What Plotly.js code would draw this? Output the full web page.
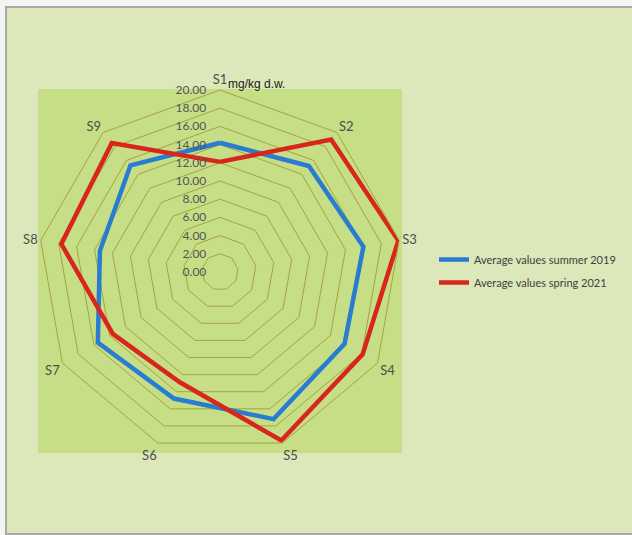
<!DOCTYPE html>
<html>
<head>
<meta charset="utf-8">
<script src="https://cdn.plot.ly/plotly-3.0.1.min.js"></script>
<style>html,body{margin:0;padding:0;background:#fff;}#chart{width:632px;height:535px;}</style>
</head>
<body>
<div id="chart"></div>
<script>
const categories = ["S1","S2","S3","S4","S5","S6","S7","S8","S9"];
const summer2019 = [14.2, 15.2, 16.0, 15.8, 17.2, 14.8, 15.5, 13.4, 15.3];
const spring2021 = [12.1, 19.0, 19.9, 18.1, 19.7, 12.9, 13.6, 17.7, 18.5];
const seriesNames = ["Average values summer 2019", "Average values spring 2021"];
const unitLabel = "mg/kg d.w.";

function closed(a){ return a.concat([a[0]]); }

const traces = [
  {type:"scatterpolar", name:seriesNames[0], legendgroup:"a", r:closed(summer2019), theta:closed(categories),
   mode:"lines", line:{color:"#2a7bd2", width:4.5}},
  {type:"scatterpolar", name:seriesNames[1], legendgroup:"b", r:closed(spring2021), theta:closed(categories),
   mode:"lines", line:{color:"#d8261d", width:4.5}}
];

const W=632, H=535;
const px = x => x/W, py = y => 1 - y/H;
const FONT = "Lato, Open Sans, Liberation Sans, sans-serif";

const layout = {
  width:W, height:H,
  margin:{l:0,r:0,t:0,b:0},
  paper_bgcolor:"#f4f4f4",
  font:{family:FONT, color:"#4a4a4a", size:12},
  showlegend:true,
  legend:{x:px(434), y:py(245), xanchor:"left", yanchor:"top", bgcolor:"rgba(0,0,0,0)",
          font:{size:11, color:"#404040", family:FONT}, tracegroupgap:4, itemwidth:30},
  polar:{
    domain:{x:[px(38), px(402)], y:[py(454), py(90)]},
    gridshape:"linear",
    bgcolor:"rgba(0,0,0,0)",
    angularaxis:{type:"category", categoryarray:categories, rotation:90, direction:"clockwise",
      showgrid:false, showline:true, linecolor:"#a9a33c", linewidth:1, ticks:"",
      tickfont:{size:13, color:"#4d4d4d", family:FONT}},
    radialaxis:{range:[0,20], dtick:2, tickformat:".2f", angle:90, tickangle:90, side:"counterclockwise",
      showline:false, ticks:"outside", ticklen:9, tickcolor:"rgba(0,0,0,0)", gridcolor:"#a9a33c", gridwidth:1,
      tickfont:{size:12, color:"#555555", family:FONT}}
  },
  shapes:[
    {type:"rect", xref:"paper", yref:"paper", x0:px(6), x1:1.05, y0:py(534), y1:py(7),
     fillcolor:"#dce8b9", line:{color:"#a8a8a8", width:2}, layer:"below"},
    {type:"rect", xref:"paper", yref:"paper", x0:px(38), x1:px(402), y0:py(453), y1:py(89),
     fillcolor:"#c6de86", line:{width:0}, layer:"below"}
  ],
  annotations:[
    {xref:"paper", yref:"paper", x:px(226), y:py(84), xanchor:"left", yanchor:"middle",
     text:unitLabel, showarrow:false, font:{size:12, color:"#1a1a1a", family:"Liberation Sans, Arial, sans-serif"}}
  ]
};

Plotly.newPlot("chart", traces, layout, {displayModeBar:false, staticPlot:true});
</script>
</body>
</html>
